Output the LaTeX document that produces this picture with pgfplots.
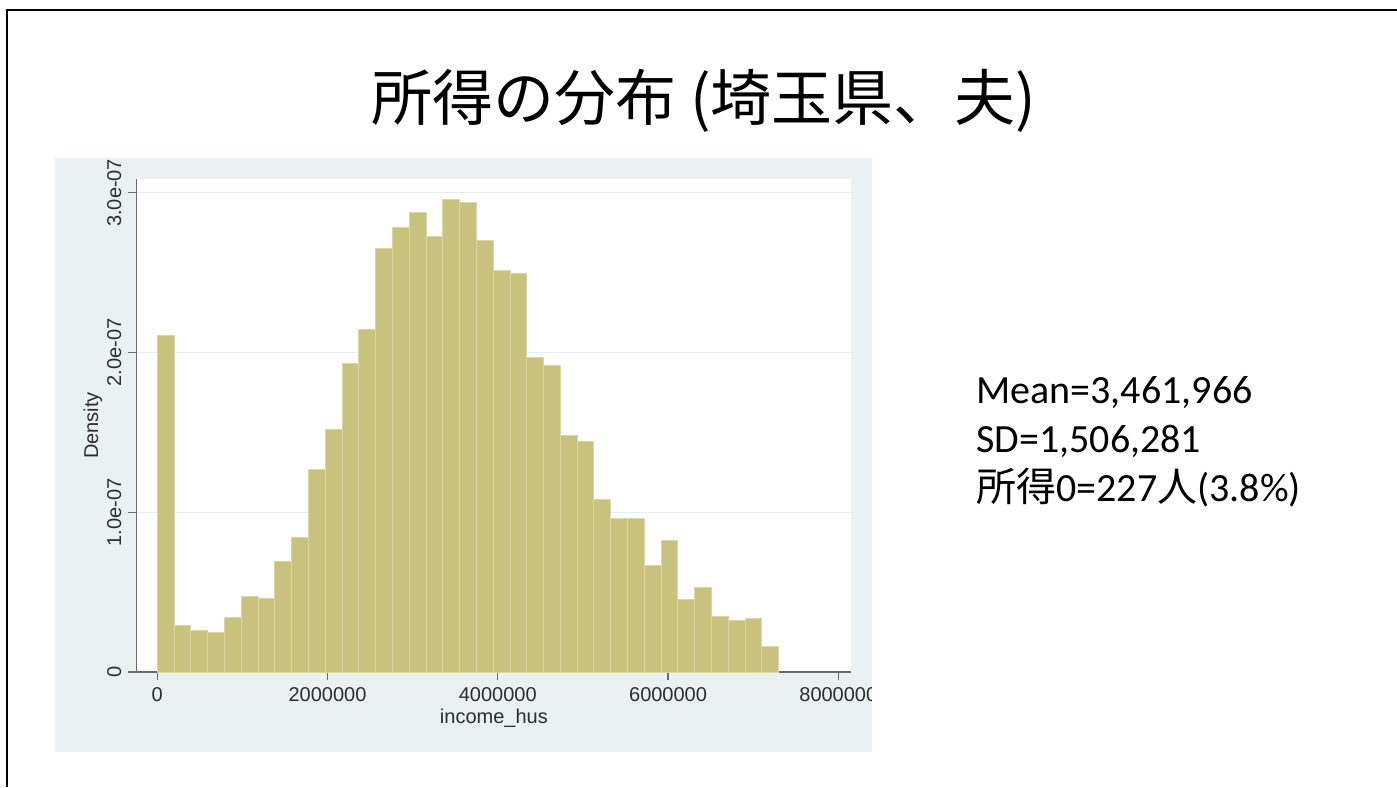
\documentclass[border=0pt]{standalone}
\usepackage{fontspec}
\usepackage{pgfplots}
\pgfplotsset{compat=1.18}
\setmainfont{Liberation Sans}
\newfontfamily\cjk{Noto Sans CJK JP}
\newfontfamily\calib{Carlito}

\definecolor{bgbox}{RGB}{233,241,243}
\definecolor{barfill}{RGB}{201,194,127}
\definecolor{barline}{RGB}{220,214,160}
\definecolor{gridcol}{RGB}{230,240,241}
\definecolor{axisgray}{RGB}{105,105,105}
\definecolor{labgray}{RGB}{45,45,45}

% bin width = 7300000/37
\pgfplotstableread{
x        density
0        2.109e-7
197297   0.290e-7
394595   0.258e-7
591892   0.248e-7
789189   0.340e-7
986486   0.471e-7
1183784  0.459e-7
1381081  0.693e-7
1578378  0.841e-7
1775676  1.268e-7
1972973  1.519e-7
2170270  1.929e-7
2367568  2.142e-7
2564865  2.649e-7
2762162  2.785e-7
2959459  2.874e-7
3156757  2.728e-7
3354054  2.958e-7
3551351  2.941e-7
3748649  2.701e-7
3945946  2.511e-7
4143243  2.497e-7
4340541  1.971e-7
4537838  1.919e-7
4735135  1.483e-7
4932432  1.441e-7
5129730  1.081e-7
5327027  0.959e-7
5524324  0.959e-7
5721622  0.668e-7
5918919  0.824e-7
6116216  0.455e-7
6313514  0.532e-7
6510811  0.350e-7
6708108  0.325e-7
6905405  0.334e-7
7102703  0.161e-7
7300000  0
}\histdata

\begin{document}
\begin{tikzpicture}
\useasboundingbox (0,0) rectangle (698.5pt,-393.5pt);
% slide frame
\draw[line width=1pt] (3.7pt,-393.5pt) -- (3.7pt,-5pt) -- (698.5pt,-5pt);
% title
\node[anchor=base, font=\cjk\fontsize{30.5pt}{34pt}\selectfont] at (352pt,-60pt) {所得の分布 (埼玉県、夫)};
% graph region
\fill[bgbox] (27.5pt,-79pt) rectangle (436pt,-376pt);

\begin{axis}[
    at={(68.35pt,-336pt)}, anchor=south west,
    scale only axis,
    width=357.15pt, height=246.35pt,
    xmin=-242000, xmax=8149000,
    ymin=0, ymax=3.0846e-7,
    axis background/.style={fill=white},
    axis lines=left,
    axis line style={draw=axisgray, line width=0.6pt, -},
    tick align=outside,
    major tick length=4.2pt,
    tick style={draw=axisgray, line width=0.6pt},
    xtick={0,2000000,4000000,6000000,8000000},
    xticklabels={0,2000000,4000000,6000000,8000000},
    ytick={0,1e-7,2e-7,3e-7},
    yticklabels={0,1.0e-07,2.0e-07,3.0e-07},
    scaled ticks=false,
    ymajorgrids=true,
    major grid style={draw=gridcol, line width=0.6pt},
    ticklabel style={font=\fontsize{10pt}{12pt}\selectfont, text=labgray},
    yticklabel style={rotate=90, anchor=south},
    clip=false,
]
\addplot[ybar interval, fill=barfill, draw=barline, line width=0.5pt] table[x=x, y=density] {\histdata};
\end{axis}

% the graph image is cut at the right edge of its region
\fill[white] (436pt,-340pt) rectangle (460pt,-356pt);

% axis titles
\node[anchor=base, font=\fontsize{10pt}{12pt}\selectfont, text=labgray] at (246.95pt,-361.5pt) {income\_hus};
\node[anchor=base, rotate=90, font=\fontsize{10pt}{12pt}\selectfont, text=labgray] at (49pt,-212.75pt) {Density};

% summary text
\node[anchor=base west, font=\calib\fontsize{20pt}{24pt}\selectfont, inner sep=0pt] at (488pt,-201.5pt) {Mean=3,461,966};
\node[anchor=base west, font=\calib\fontsize{20pt}{24pt}\selectfont, inner sep=0pt] at (488pt,-226pt) {SD=1,506,281};
\node[anchor=base west, font=\calib\fontsize{20pt}{24pt}\selectfont, inner sep=0pt] at (488pt,-250.5pt) {{\cjk 所得}0=227{\cjk 人}(3.8\%)};
\end{tikzpicture}
\end{document}
